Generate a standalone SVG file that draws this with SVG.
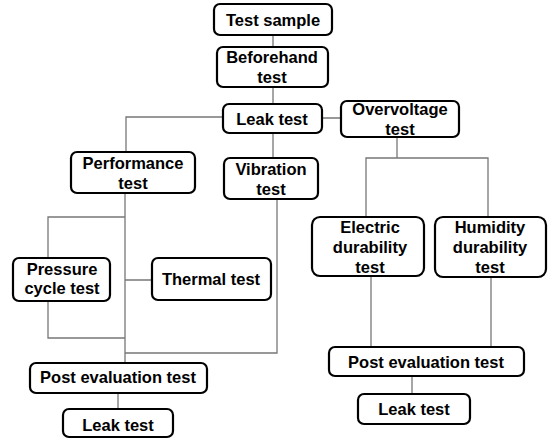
<svg xmlns="http://www.w3.org/2000/svg" width="549" height="439" viewBox="0 0 549 439">
<style>
.box{fill:#fff;stroke:#000;stroke-width:2.2}
.t{font-family:"Liberation Sans","Noto Sans CJK KR",sans-serif;font-weight:bold;font-size:16.5px;fill:#000;text-anchor:middle}
.c{fill:none;stroke:#777;stroke-width:1.3}
</style>
<rect width="549" height="439" fill="#fff"/>
<g id="connectors">
<path class="c" d="M273 35V47M273 87V104M322 118H341"/>
<path class="c" d="M223 117H126V152M273 133V158"/>
<path class="c" d="M397 137V158M366 217V158H488V217"/>
<path class="c" d="M371 276V347M491 277V347M412 376V394"/>
<path class="c" d="M125 193V363M125 217H48V258M48 301V338H125M125 280H152M277 199V353H125M118 393V409"/>
</g>
<g id="test-sample"><rect class="box" x="214" y="4" width="118" height="31" rx="6"/><text class="t" x="273" y="25.5">Test sample</text></g>
<g id="beforehand"><rect class="box" x="217" y="47" width="111" height="40" rx="6"/><text class="t" x="272" y="63">Beforehand</text><text class="t" x="272" y="83">test</text></g>
<g id="leak-top"><rect class="box" x="223" y="104" width="99" height="29" rx="6"/><text class="t" x="272" y="125">Leak test</text></g>
<g id="overvoltage"><rect class="box" x="341" y="101" width="118" height="36" rx="6"/><text class="t" x="400" y="115">Overvoltage</text><text class="t" x="400" y="135">test</text></g>
<g id="performance"><rect class="box" x="71" y="152" width="124" height="41" rx="6"/><text class="t" x="133" y="169">Performance</text><text class="t" x="133" y="189">test</text></g>
<g id="vibration"><rect class="box" x="224" y="158" width="94" height="41" rx="6"/><text class="t" x="271" y="175">Vibration</text><text class="t" x="271" y="195">test</text></g>
<g id="electric"><rect class="box" x="312" y="217" width="112" height="59" rx="8"/><text class="t" x="370" y="233">Electric</text><text class="t" x="370" y="253">durability</text><text class="t" x="370" y="273">test</text></g>
<g id="humidity"><rect class="box" x="435" y="217" width="111" height="60" rx="8"/><text class="t" x="490" y="233">Humidity</text><text class="t" x="490" y="253">durability</text><text class="t" x="490" y="273">test</text></g>
<g id="pressure"><rect class="box" x="13" y="258" width="97" height="43" rx="6"/><text class="t" x="62" y="275">Pressure</text><text class="t" x="62" y="294">cycle test</text></g>
<g id="thermal"><rect class="box" x="152" y="258" width="119" height="42" rx="6"/><text class="t" x="211" y="285">Thermal test</text></g>
<g id="post-left"><rect class="box" x="30" y="363" width="177" height="30" rx="6"/><text class="t" x="118" y="383">Post evaluation test</text></g>
<g id="leak-left"><rect class="box" x="63" y="409" width="110" height="28" rx="6"/><text class="t" x="118" y="431">Leak test</text></g>
<g id="post-right"><rect class="box" x="329" y="347" width="195" height="29" rx="6"/><text class="t" x="426" y="367.5">Post evaluation test</text></g>
<g id="leak-right"><rect class="box" x="358" y="394" width="112" height="30" rx="6"/><text class="t" x="414" y="415">Leak test</text></g>
</svg>
